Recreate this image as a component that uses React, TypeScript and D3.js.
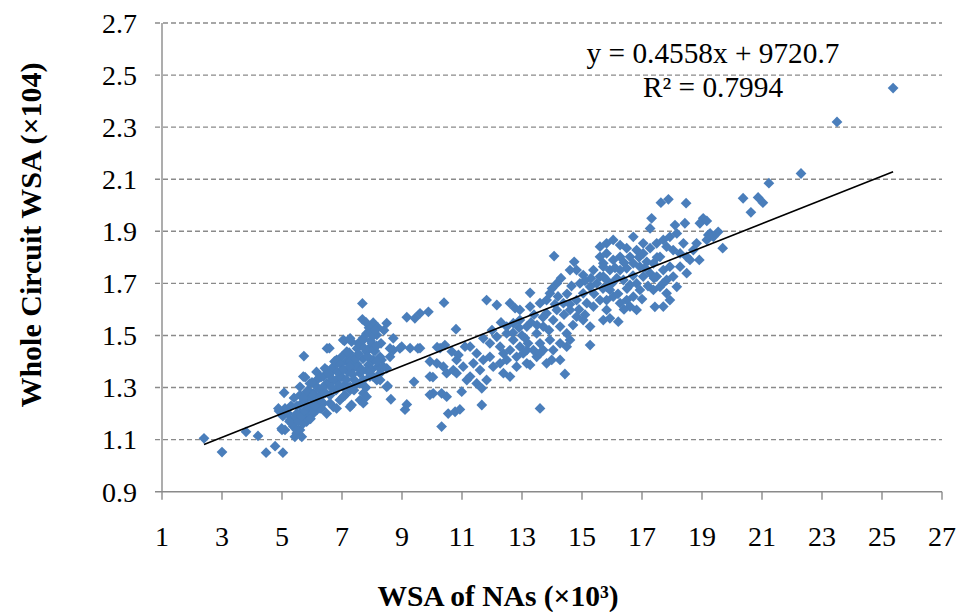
import React from "react";
import * as d3 from "d3";

// WSA of NAs (x10^3) vs whole circuit WSA (x10^4)
const lowTail: [number, number][] = [
  [2.4, 1.105], [3.0, 1.052], [3.8, 1.13], [4.2, 1.114], [4.47, 1.05], [4.77, 1.075],
  [5.03, 1.05], [5.0, 1.137], [5.1, 1.137], [4.9, 1.21], [5.1, 1.22], [5.03, 1.19],
  [5.07, 1.28], [4.88, 1.22], [4.99, 1.143], [5.27, 1.175], [5.38, 1.15], [5.49, 1.124],
  [5.2, 1.2], [5.35, 1.16], [5.25, 1.17], [5.45, 1.19], [5.4, 1.26], [5.3, 1.23],
];

const clusterA: [number, number][] = [
  [5.6, 1.137], [5.71, 1.163], [5.49, 1.2], [5.6, 1.233], [5.77, 1.252], [5.93, 1.226],
  [6.04, 1.2], [5.82, 1.188], [6.16, 1.214], [6.32, 1.22], [6.38, 1.24], [5.77, 1.34],
  [5.6, 1.303], [5.88, 1.29], [6.04, 1.278], [6.16, 1.303], [6.43, 1.374], [6.5, 1.45],
  [5.82, 1.169], [5.66, 1.111], [5.43, 1.111], [5.93, 1.265], [6.27, 1.29], [6.49, 1.316],
  [5.73, 1.421], [6.58, 1.451], [7.08, 1.479], [7.32, 1.476], [7.24, 1.434], [8.52, 1.306],
  [8.63, 1.255], [7.68, 1.623], [7.68, 1.562], [8.04, 1.549], [8.49, 1.547], [8.71, 1.489],
  [7.82, 1.508], [8.16, 1.502], [7.6, 1.47], [7.82, 1.438], [8.04, 1.406], [8.32, 1.406],
  [8.6, 1.418], [8.71, 1.444], [7.16, 1.4], [7.38, 1.374], [7.6, 1.355], [6.93, 1.361],
  [6.71, 1.38], [6.49, 1.367], [6.38, 1.342], [6.16, 1.329], [5.93, 1.316], [5.71, 1.342],
  [5.82, 1.284], [5.6, 1.271], [6.04, 1.271], [6.6, 1.316], [6.82, 1.329], [7.04, 1.303],
  [7.27, 1.29], [7.49, 1.316], [7.71, 1.329], [7.93, 1.342], [8.16, 1.329], [7.6, 1.252],
  [7.32, 1.233], [6.93, 1.252], [6.71, 1.226], [6.49, 1.2], [6.27, 1.22], [6.04, 1.24],
  [5.6, 1.2], [5.71, 1.163], [5.49, 1.137], [5.82, 1.182], [5.99, 1.207], [7.71, 1.278],
  [8.27, 1.355], [8.49, 1.374], [7.88, 1.387], [6.6, 1.27], [6.8, 1.29], [7.0, 1.34],
  [7.1, 1.31], [7.2, 1.36], [7.4, 1.33], [7.5, 1.39], [7.7, 1.41], [7.9, 1.45],
  [8.0, 1.47], [8.1, 1.44], [8.3, 1.47], [8.4, 1.52], [8.2, 1.53], [7.9, 1.53],
  [7.7, 1.49], [7.5, 1.45], [7.3, 1.42], [7.0, 1.42], [6.9, 1.31], [6.7, 1.33],
  [6.3, 1.27], [6.2, 1.25], [6.6, 1.24], [7.1, 1.27], [7.4, 1.29], [7.8, 1.3],
  [8.0, 1.37], [8.2, 1.38], [8.6, 1.45], [7.04, 1.483], [7.27, 1.489], [7.54, 1.47],
  [7.71, 1.483], [7.93, 1.508], [8.04, 1.444], [8.27, 1.418], [7.16, 1.438], [6.82, 1.406],
  [7.27, 1.4], [7.49, 1.38], [7.82, 1.367], [8.04, 1.342], [8.27, 1.329], [6.93, 1.342],
  [6.71, 1.367], [7.27, 1.303], [7.6, 1.316], [7.82, 1.265], [7.04, 1.265], [6.82, 1.22],
  [7.27, 1.226], [7.71, 1.24], [8.49, 1.303], [8.38, 1.38], [8.16, 1.4],
  [5.55, 1.17], [5.65, 1.19], [5.75, 1.21], [5.85, 1.23], [5.95, 1.18], [6.1, 1.23],
  [6.25, 1.26], [6.35, 1.3], [6.45, 1.28], [6.55, 1.35], [6.65, 1.3], [6.75, 1.4],
  [6.85, 1.36], [6.95, 1.39], [7.05, 1.37], [7.15, 1.33], [7.25, 1.38], [7.35, 1.35],
  [7.45, 1.41], [7.55, 1.43], [7.65, 1.37], [7.75, 1.45], [7.85, 1.42], [7.95, 1.48],
  [8.05, 1.5], [8.15, 1.46], [6.0, 1.32], [5.7, 1.26], [5.5, 1.23], [6.15, 1.36],
  [6.3, 1.34], [7.8, 1.55], [8.1, 1.52],
];

const clusterB: [number, number][] = [
  [8.99, 1.457], [9.27, 1.451], [9.6, 1.451], [9.16, 1.57], [9.43, 1.566], [9.6, 1.585],
  [9.88, 1.591], [10.4, 1.626], [10.8, 1.524], [9.4, 1.322], [9.16, 1.235], [9.1, 1.215],
  [9.93, 1.342], [10.04, 1.278], [10.32, 1.278], [10.49, 1.265], [10.54, 1.2], [10.77, 1.207],
  [10.93, 1.216], [10.32, 1.15], [9.93, 1.4], [10.16, 1.393], [10.38, 1.38], [10.49, 1.355],
  [10.71, 1.367], [10.82, 1.406], [11.04, 1.38], [11.16, 1.329], [10.43, 1.463], [10.27, 1.451],
  [10.66, 1.438], [10.88, 1.425], [11.1, 1.457], [11.27, 1.457], [11.49, 1.431], [11.38, 1.393],
  [11.71, 1.406], [11.93, 1.418], [11.6, 1.367], [11.27, 1.342], [11.49, 1.316], [11.82, 1.329],
  [12.04, 1.38], [11.93, 1.47], [11.66, 1.233], [11.82, 1.636], [11.71, 1.489], [11.66, 1.297],
  [10.99, 1.284], [10.82, 1.355], [8.93, 1.45], [9.53, 1.45], [10.17, 1.455], [10.03, 1.34],
  [9.93, 1.272],
];

const clusterC: [number, number][] = [
  [12.16, 1.617], [14.07, 1.805], [14.74, 1.783], [14.82, 1.751], [13.27, 1.664], [14.16, 1.7],
  [13.93, 1.662], [14.43, 1.352], [13.6, 1.22], [15.27, 1.463], [13.99, 1.406], [13.27, 1.387],
  [12.27, 1.393], [12.38, 1.431], [12.16, 1.495], [12.49, 1.508], [12.71, 1.483], [12.93, 1.457],
  [12.6, 1.444], [12.82, 1.418], [13.04, 1.431], [13.38, 1.444], [13.6, 1.47], [13.49, 1.508],
  [13.16, 1.534], [12.93, 1.559], [12.71, 1.547], [12.49, 1.534], [12.93, 1.598], [13.27, 1.611],
  [13.6, 1.624], [13.82, 1.585], [14.04, 1.559], [14.27, 1.534], [14.49, 1.508], [14.6, 1.483],
  [14.27, 1.47], [13.93, 1.483], [13.71, 1.444], [13.49, 1.418], [14.49, 1.457], [14.82, 1.572],
  [15.04, 1.559], [15.27, 1.534], [14.6, 1.598], [14.38, 1.624], [14.82, 1.636], [15.04, 1.662],
  [15.27, 1.687], [15.49, 1.7], [14.93, 1.7], [14.6, 1.751], [15.04, 1.732], [15.38, 1.751],
  [15.16, 1.624], [15.38, 1.611], [13.71, 1.534], [14.16, 1.598], [13.82, 1.636], [12.27, 1.457],
  [12.49, 1.406], [12.38, 1.355], [12.6, 1.342], [12.82, 1.38], [13.16, 1.393], [13.16, 1.444],
  [13.6, 1.431], [13.82, 1.393], [14.04, 1.444], [14.27, 1.406], [12.77, 1.605], [12.6, 1.624],
  [12.3, 1.55], [12.0, 1.52], [13.4, 1.58], [14.5, 1.66], [14.3, 1.72], [14.65, 1.69],
  [13.0, 1.5], [13.2, 1.47], [13.3, 1.55], [13.5, 1.54], [13.7, 1.57], [13.9, 1.52],
  [14.1, 1.62], [14.2, 1.65], [14.4, 1.58], [14.6, 1.62], [14.7, 1.54], [14.9, 1.6],
  [15.1, 1.71], [15.3, 1.72], [15.4, 1.66], [15.1, 1.58], [14.0, 1.68], [13.1, 1.49],
  [12.7, 1.51], [12.9, 1.53],
];

const clusterD: [number, number][] = [
  [15.71, 1.726], [15.82, 1.687], [15.6, 1.636], [15.71, 1.777], [15.82, 1.598], [15.71, 1.559],
  [17.63, 2.01], [17.88, 2.023], [18.47, 2.008], [17.32, 1.95], [17.27, 1.911], [19.04, 1.95],
  [18.93, 1.931], [18.43, 1.931], [18.1, 1.924], [16.71, 1.879], [17.04, 1.854], [19.54, 1.898],
  [19.27, 1.892], [19.69, 1.835], [18.91, 1.79], [17.43, 1.61], [15.93, 1.566], [16.21, 1.553],
  [15.6, 1.841], [15.82, 1.854], [16.04, 1.867], [16.27, 1.847], [16.49, 1.835], [15.6, 1.802],
  [15.82, 1.815], [16.04, 1.79], [16.27, 1.802], [16.6, 1.802], [16.82, 1.828], [17.04, 1.815],
  [17.27, 1.835], [17.49, 1.854], [17.71, 1.867], [17.93, 1.879], [18.16, 1.892], [17.82, 1.841],
  [18.04, 1.828], [18.27, 1.815], [18.49, 1.802], [18.38, 1.854], [17.6, 1.802], [17.38, 1.777],
  [17.16, 1.783], [16.93, 1.764], [16.71, 1.777], [16.49, 1.758], [16.27, 1.751], [15.93, 1.751],
  [15.71, 1.764], [15.6, 1.726], [15.82, 1.713], [16.16, 1.72], [16.38, 1.713], [16.6, 1.694],
  [16.82, 1.7], [17.04, 1.726], [17.27, 1.739], [17.49, 1.726], [17.71, 1.751], [17.93, 1.764],
  [17.82, 1.713], [17.6, 1.687], [17.38, 1.675], [16.93, 1.675], [16.71, 1.649], [16.49, 1.636],
  [16.27, 1.624], [16.04, 1.649], [15.82, 1.636], [15.93, 1.675], [17.82, 1.662], [17.93, 1.636],
  [17.71, 1.611], [16.82, 1.598], [16.6, 1.611], [18.71, 1.828], [18.82, 1.854], [19.16, 1.867],
  [19.38, 1.879], [18.27, 1.764], [18.49, 1.739], [18.04, 1.726], [18.16, 1.687], [18.6, 1.79],
  [19.16, 1.94], [19.21, 1.886],
  [15.7, 1.68], [16.0, 1.7], [16.1, 1.76], [16.4, 1.78], [16.5, 1.68], [16.7, 1.73],
  [16.9, 1.8], [17.1, 1.76], [17.2, 1.69], [17.4, 1.72], [17.5, 1.8], [17.7, 1.7],
  [16.2, 1.66], [16.4, 1.6], [17.0, 1.64],
];

const highTail: [number, number][] = [
  [20.37, 2.027], [20.87, 2.03], [21.03, 2.01], [20.63, 1.973], [21.23, 2.085], [22.3, 2.122],
  [23.5, 2.32], [25.37, 2.45],
];

const xTicks = [1, 3, 5, 7, 9, 11, 13, 15, 17, 19, 21, 23, 25, 27];
const yTicks = [0.9, 1.1, 1.3, 1.5, 1.7, 1.9, 2.1, 2.3, 2.5, 2.7];

// Excel linear trendline: y = 0.4558x + 9720.7 (raw units)
const slope = 0.4558;
const intercept = 9720.7;
const rSquared = 0.7994;

const W = 958;
const H = 612;
const serif = "'Liberation Serif', 'Times New Roman', serif";

export default function App() {
  const points = [...lowTail, ...clusterA, ...clusterB, ...clusterC, ...clusterD, ...highTail];

  const x = d3.scaleLinear().domain([1, 27]).range([162, 942]);
  const y = d3.scaleLinear().domain([0.9, 2.7]).range([491.7, 23]);

  const diamond = d3.symbol().type(d3.symbolDiamond2).size(74)();

  // trendline over the data's x extent (units x10^3 -> x10^4)
  const [xmin, xmax] = d3.extent(points, (d) => d[0]) as [number, number];
  const fit = (v: number) => (slope * v * 1000 + intercept) / 10000;
  const trend = d3.line<number>()
    .x((v) => x(v))
    .y((v) => y(fit(v)))([xmin, xmax]);

  return (
    <div style={{ position: "absolute", left: 0, top: 0 }}>
      <svg width={W} height={H} style={{ display: "block", background: "#fff" }}>
        {/* grid */}
        {yTicks.slice(1).map((t) => (
          <line key={"g" + t} x1={155} x2={x(27)} y1={y(t)} y2={y(t)}
            stroke="#8a8a8a" strokeWidth={1.4} strokeDasharray="5,3" />
        ))}
        {/* axes */}
        <line x1={x(1)} x2={x(1)} y1={y(2.7)} y2={y(0.9)} stroke="#8a8a8a" strokeWidth={1.4} />
        <line x1={155} x2={x(27)} y1={y(0.9)} y2={y(0.9)} stroke="#8a8a8a" strokeWidth={1.4} />
        {xTicks.map((t) => (
          <line key={"xt" + t} x1={x(t)} x2={x(t)} y1={y(0.9)} y2={y(0.9) + 8}
            stroke="#8a8a8a" strokeWidth={1.4} />
        ))}
        {yTicks.map((t) => (
          <text key={"yl" + t} x={137} y={y(t)} dy="0.35em" textAnchor="end"
            fontFamily={serif} fontSize={28} fill="#000">{t.toFixed(1)}</text>
        ))}
        {xTicks.map((t) => (
          <text key={"xl" + t} x={x(t)} y={546} textAnchor="middle"
            fontFamily={serif} fontSize={28} fill="#000">{t}</text>
        ))}

        {/* points */}
        {points.map((d, i) => (
          <path key={i} d={diamond} transform={`translate(${x(d[0])},${y(d[1])})`} fill="#4A7EBB" />
        ))}

        <path d={trend ?? ""} fill="none" stroke="#000" strokeWidth={1.6} />

        <text x={713} y={63} textAnchor="middle" fontFamily={serif} fontSize={29.3} fill="#000">
          {`y = ${slope}x + ${intercept}`}
        </text>
        <text x={713} y={97} textAnchor="middle" fontFamily={serif} fontSize={29.3} fill="#000">
          {`R² = ${rSquared}`}
        </text>

        <text x={498} y={606} textAnchor="middle" fontFamily={serif} fontSize={29.5} fontWeight="bold" fill="#000">
          WSA of NAs (×10³)
        </text>
        <text transform="translate(41,235) rotate(-90)" textAnchor="middle" fontFamily={serif}
          fontSize={30} fontWeight="bold" fill="#000">
          Whole Circuit WSA (×104)
        </text>
      </svg>
    </div>
  );
}
